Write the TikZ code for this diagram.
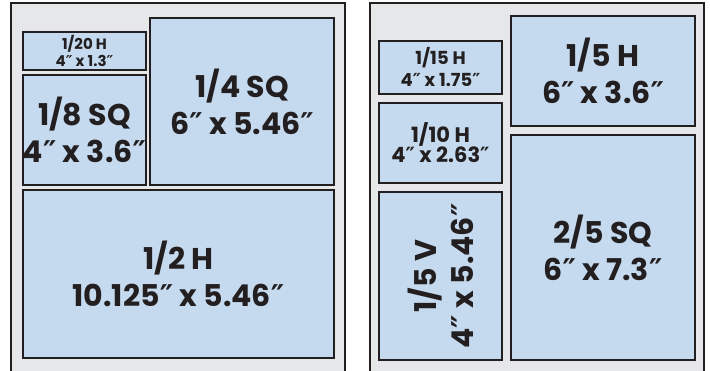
\documentclass[tikz,border=0pt]{standalone}
\usepackage{fontspec}
\setmainfont{Poppins}
\newfontfamily\dvfont{DejaVu Sans}
\newcommand{\inch}{{\dvfont\bfseries ″}}
\definecolor{panelbg}{HTML}{E6E7E9}
\definecolor{boxfill}{HTML}{C5DAEE}
\definecolor{ink}{HTML}{231F20}
\tikzset{
  box/.style={draw=ink, line width=2.6pt, fill=boxfill, inner sep=0pt, align=center, text=ink, font=\bfseries},
  big/.style={font=\fontsize{30}{37}\selectfont\bfseries},
  mid/.style={font=\fontsize{21}{20}\selectfont\bfseries},
  small/.style={font=\fontsize{15}{17}\selectfont\bfseries},
}
\begin{document}
\begin{tikzpicture}[x=1pt,y=-1pt]
\useasboundingbox (0,0) rectangle (710,370);
% panels
\fill[panelbg] (11,3) rectangle (345,372);
\draw[draw=ink, line width=2.2pt] (11,375) -- (11,3) -- (345,3) -- (345,375);
\fill[panelbg] (370,3) rectangle (704,372);
\draw[draw=ink, line width=2.2pt] (370,375) -- (370,3) -- (704,3) -- (704,375);
% left panel boxes
\node[box, small, minimum width=123pt, minimum height=38pt] (a) at (84.5,51) {1/20 H\\4\inch{} x 1.3\inch};
\node[box, big, minimum width=123pt, minimum height=110pt] (b) at (84.5,130) {1/8 SQ\\4\inch{} x 3.6\inch};
\node[box, big, minimum width=184pt, minimum height=167pt] (c) at (242,101.5) {1/4 SQ\\6\inch{} x 5.46\inch};
\node[box, big, minimum width=311pt, minimum height=168pt] (d) at (178.5,274) {1/2 H\\10.125\inch{} x 5.46\inch};
% right panel boxes
\node[box, minimum width=123pt, minimum height=53pt, font=\fontsize{18}{22}\selectfont\bfseries] (e) at (440.5,67.5) {1/15 H\\4\inch{} x 1.75\inch};
\node[box, mid, minimum width=123pt, minimum height=80pt] (f) at (440.5,143) {1/10 H\\4\inch{} x 2.63\inch};
\node[box, big, minimum width=184pt, minimum height=110pt] (g) at (603,71) {1/5 H\\6\inch{} x 3.6\inch};
\node[box, big, minimum width=184pt, minimum height=225pt] (h) at (603,247.5) {2/5 SQ\\6\inch{} x 7.3\inch};
\node[box, minimum width=123pt, minimum height=168pt] (i) at (440.5,276) {};
\node[big, text=ink, rotate=90, align=center, inner sep=0pt] (it) at (i.center) {1/5 V\\4\inch{} x 5.46\inch};
\end{tikzpicture}
\end{document}
